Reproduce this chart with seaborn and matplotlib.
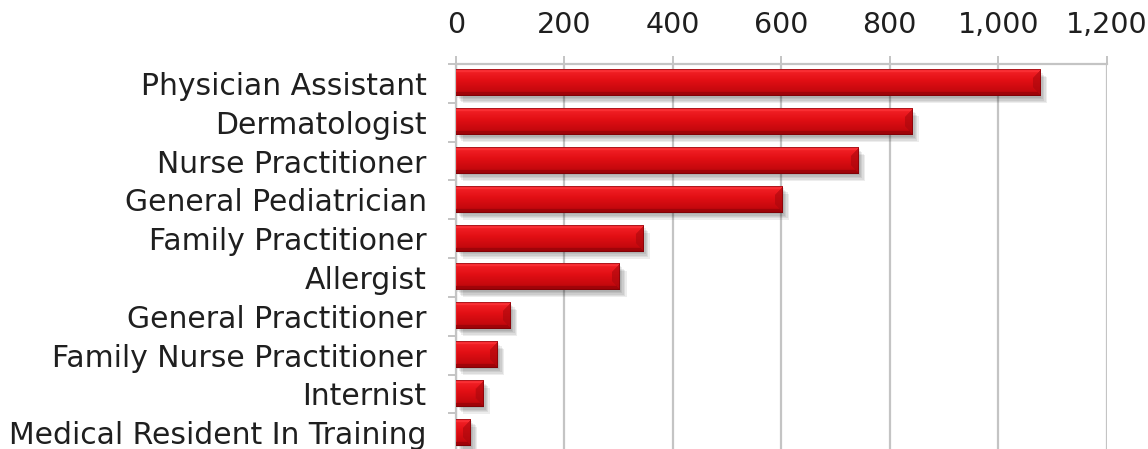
import numpy as np
import pandas as pd
import matplotlib
matplotlib.use("Agg")
import matplotlib.pyplot as plt
import matplotlib.patheffects as pe
from matplotlib.ticker import FuncFormatter, MultipleLocator, FixedLocator
import seaborn as sns

# Provider types and their counts
providers = [
    "Physician Assistant",
    "Dermatologist",
    "Nurse Practitioner",
    "General Pediatrician",
    "Family Practitioner",
    "Allergist",
    "General Practitioner",
    "Family Nurse Practitioner",
    "Internist",
    "Medical Resident In Training",
]
counts = [1077, 841, 742, 602, 345, 302, 101, 77, 50, 27]
x_ticks = [0, 200, 400, 600, 800, 1000, 1200]

df = pd.DataFrame({"provider": providers, "count": counts})

sns.set_theme(style="white")
plt.rcParams["font.family"] = ["DejaVu Sans"]

fig = plt.figure(figsize=(11.48, 4.49), dpi=100)
ax = fig.add_axes([0.397, -0.007, 0.567, 0.8645])

sns.barplot(data=df, y="provider", x="count", orient="h", color="#d81010",
            width=0.67, ax=ax, zorder=3, saturation=1)

ax.set_xlim(x_ticks[0], x_ticks[-1])
ax.set_ylim(len(providers) - 0.5, -0.5)
ax.set_xlabel("")
ax.set_ylabel("")

grid_c = "#c4c4c4"
text_c = "#1f1f1f"
ax.xaxis.set_major_locator(FixedLocator(x_ticks))
ax.xaxis.set_major_formatter(FuncFormatter(lambda v, p: f"{int(v):,}"))
ax.xaxis.tick_top()
ax.grid(axis="x", color=grid_c, linewidth=1.6, zorder=0)
ax.set_axisbelow(True)
ax.tick_params(axis="x", which="major", direction="out", length=6, width=1.4,
               color=grid_c, pad=12, labelsize=20.5, labelcolor=text_c,
               top=True, bottom=False)
ax.yaxis.set_minor_locator(MultipleLocator(1, offset=0.5))
ax.tick_params(axis="y", which="major", length=0, pad=21, labelsize=21.5,
               labelcolor=text_c, left=True)
ax.tick_params(axis="y", which="minor", direction="out", length=6, width=1.4,
               color=grid_c, left=True)
for side in ["right", "bottom"]:
    ax.spines[side].set_visible(False)
for side in ["top", "left"]:
    ax.spines[side].set_color(grid_c)
    ax.spines[side].set_linewidth(1.6)


def bevel_image(wpx, hpx, b=8):
    """RGBA array of a bevelled red bar, wpx x hpx pixels."""
    wpx = max(int(round(wpx)), 2)
    hpx = max(int(round(hpx)), 2)
    yy, xx = np.mgrid[0:hpx, 0:wpx].astype(float)
    t = (yy / (hpx - 1))[..., None]
    # vertical shading of the body: bright upper band, deeper lower band
    top = np.array([0.96, 0.14, 0.16])
    mid = np.array([0.89, 0.06, 0.08])
    low = np.array([0.72, 0.02, 0.04])
    body = np.where(t < 0.4, top + (mid - top) * (t / 0.4),
                    mid + (low - mid) * ((t - 0.4) / 0.6))
    img = body.copy()
    dt, db = yy, (hpx - 1) - yy
    dl, dr = xx + 3.0, (wpx - 1) - xx
    d = np.stack([dt, db, dl, dr])
    which = np.argmin(d, axis=0)
    dmin = np.min(d, axis=0)
    facet_cols = [np.array([1.00, 0.22, 0.24]),   # top
                  np.array([0.55, 0.01, 0.03]),   # bottom
                  np.array([0.92, 0.14, 0.16]),   # left
                  np.array([0.66, 0.03, 0.05])]   # right
    widths = [3.0, 4.0, 4.0, min(b, hpx / 3.0)]
    for k, c in enumerate(facet_cols):
        m = (which == k) & (dmin < widths[k])
        img[m] = 0.4 * img[m] + 0.6 * c
    # thin dark rim
    rim = (dt < 1.0) | (db < 1.0) | (dr < 1.0)
    img[rim] = 0.5 * img[rim] + 0.5 * np.array([0.40, 0.0, 0.02])
    alpha = np.ones((hpx, wpx, 1))
    return np.concatenate([np.clip(img, 0, 1), alpha], axis=2)


# soft drop shadow built from stacked faint offsets
shadow = [pe.SimplePatchShadow(offset=(o, -o), shadow_rgbFace="#000000", alpha=0.07)
          for o in (1, 2, 3, 4, 5)]

fig.canvas.draw()
for bar in ax.patches:
    x0, y0 = bar.get_x(), bar.get_y()
    w, h = bar.get_width(), bar.get_height()
    (px0, py0), (px1, py1) = ax.transData.transform([(x0, y0), (x0 + w, y0 + h)])
    img = bevel_image(abs(px1 - px0), abs(py1 - py0))
    bar.set_edgecolor("none")
    bar.set_path_effects(shadow + [pe.Normal()])
    ax.imshow(img, extent=(x0, x0 + w, y0 + h, y0), aspect="auto",
              interpolation="bilinear", zorder=4)

ax.set_xlim(x_ticks[0], x_ticks[-1])
ax.set_ylim(len(providers) - 0.5, -0.5)

fig.savefig("out.png", dpi=100)
